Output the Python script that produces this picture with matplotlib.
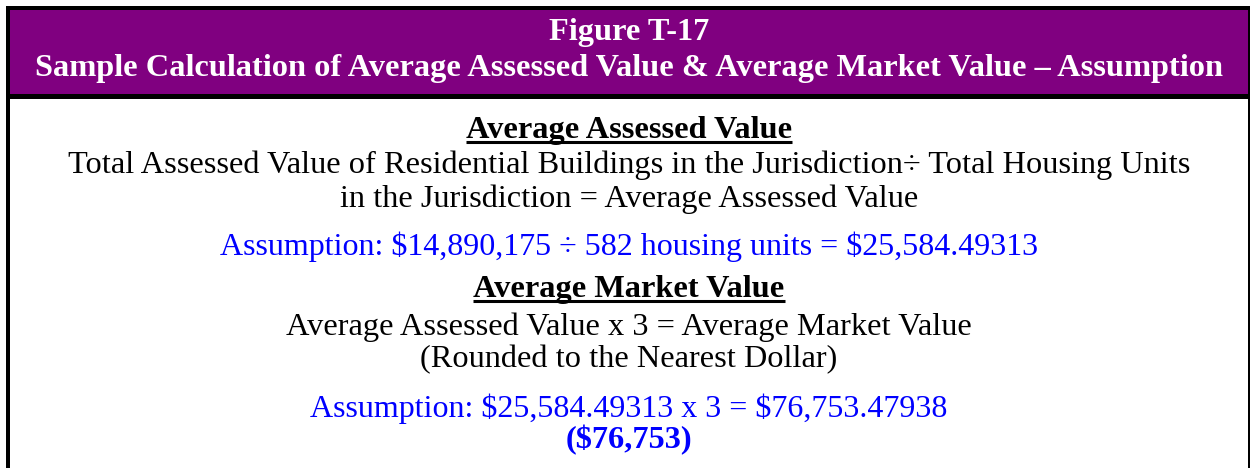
import matplotlib
matplotlib.use("Agg")
from matplotlib import pyplot as plt
from matplotlib.patches import Rectangle

plt.rcParams["text.parse_math"] = False

# figure texts
title_lines = ["Figure T-17",
               "Sample Calculation of Average Assessed Value & Average Market Value \u2013 Assumption"]
head_1 = "Average Assessed Value"
body_1 = ["Total Assessed Value of Residential Buildings in the Jurisdiction\u00f7 Total Housing Units",
          "in the Jurisdiction = Average Assessed Value"]
assume_1 = "Assumption: $14,890,175 \u00f7 582 housing units = $25,584.49313"
head_2 = "Average Market Value"
body_2 = ["Average Assessed Value x 3 = Average Market Value",
          "(Rounded to the Nearest Dollar)"]
assume_2 = "Assumption: $25,584.49313 x 3 = $76,753.47938"
result = "($76,753)"

W, H = 1251, 468
fig = plt.figure(figsize=(W / 100, H / 100), dpi=100)
ax = fig.add_axes([0, 0, 1, 1])
ax.set_xlim(0, W)
ax.set_ylim(H, 0)
ax.axis("off")

purple = "#800080"
blue = "#0000ff"
serif = "Liberation Serif"

# frame and header band
ax.add_patch(Rectangle((6, 6), 1244, 92, facecolor=purple, edgecolor="none"))
ax.add_patch(Rectangle((6, 6), 1244, 4, facecolor="black", edgecolor="none"))
ax.add_patch(Rectangle((6, 94), 1244, 5, facecolor="black", edgecolor="none"))
ax.add_patch(Rectangle((6, 6), 4, H, facecolor="black", edgecolor="none"))
ax.add_patch(Rectangle((1248, 6), 2, H, facecolor="black", edgecolor="none"))

cx = 629
fs = 23.3


def put(s, y, size, color="black", bold=False, underline=False):
    t = ax.text(cx, y, s, ha="center", va="baseline", fontsize=size,
                color=color, family=serif,
                fontweight="bold" if bold else "normal")
    if underline:
        fig.canvas.draw()
        bb = t.get_window_extent(renderer=fig.canvas.get_renderer())
        ax.plot([bb.x0, bb.x1], [y + 4, y + 4], color=color, lw=2.2,
                solid_capstyle="butt")
    return t


put(title_lines[0], 40, fs, color="white", bold=True)
put(title_lines[1], 76, fs, color="white", bold=True)

put(head_1, 138, fs, bold=True, underline=True)
put(body_1[0], 173, fs)
put(body_1[1], 207, fs)
put(assume_1, 255, 23.0, color=blue)

put(head_2, 297, fs, bold=True, underline=True)
put(body_2[0], 335, fs)
put(body_2[1], 367, fs)
put(assume_2, 417, 23.0, color=blue)
put(result, 448, fs, color=blue, bold=True)

fig.savefig("out.png", dpi=100)
